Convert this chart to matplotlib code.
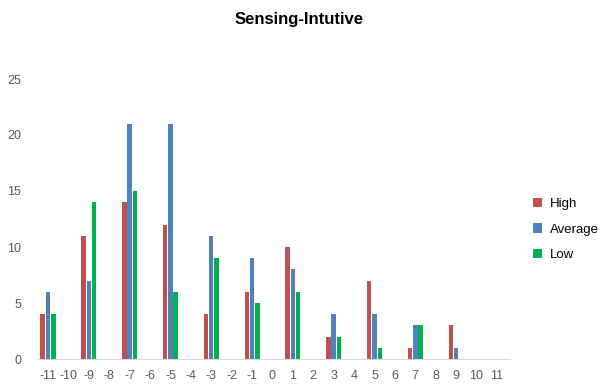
import numpy as np
import matplotlib.pyplot as plt

plt.rcParams['font.family'] = ['Liberation Sans', 'DejaVu Sans']

categories = list(range(-11, 12))
high = [4, 0, 11, 0, 14, 0, 12, 0, 4, 0, 6, 0, 10, 0, 2, 0, 7, 0, 1, 0, 3, 0, 0]
average = [6, 0, 7, 0, 21, 0, 21, 0, 11, 0, 9, 0, 8, 0, 4, 0, 4, 0, 3, 0, 1, 0, 0]
low = [4, 0, 14, 0, 15, 0, 6, 0, 9, 0, 5, 0, 6, 0, 2, 0, 1, 0, 3, 0, 0, 0, 0]

series = [("High", high, "#c0504d"),
          ("Average", average, "#4f81bd"),
          ("Low", low, "#00b050")]

fig = plt.figure(figsize=(5.98, 3.89), dpi=100)
ax = fig.add_axes([38 / 598, 30 / 389, 472 / 598, 280 / 389])

x = np.arange(len(categories))
w = 0.22
for i, (name, vals, col) in enumerate(series):
    ax.bar(x + (i - 1) * 0.26, vals, w, color=col, label=name)

ax.set_xlim(-0.49, len(categories) - 1 + 0.64)
ax.set_ylim(0, 25)
ax.set_xticks(x)
ax.set_xticklabels([str(c) for c in categories])
ax.set_yticks(range(0, 26, 5))

for s in ["top", "right", "left"]:
    ax.spines[s].set_visible(False)
ax.spines["bottom"].set_color("#d9d9d9")
ax.tick_params(axis="both", length=0, colors="#595959", labelsize=9)
ax.tick_params(axis="y", pad=12)
ax.tick_params(axis="x", pad=8)

fig.suptitle("Sensing-Intutive", fontsize=12, fontweight="bold", x=0.5, y=0.97)

fig.legend(loc="upper left", bbox_to_anchor=(521 / 598, 1 - 186 / 389),
           frameon=False, fontsize=9.5, handlelength=0.7, handleheight=0.7,
           labelspacing=1.0, handletextpad=0.6)

fig.savefig("out.png", dpi=100)
